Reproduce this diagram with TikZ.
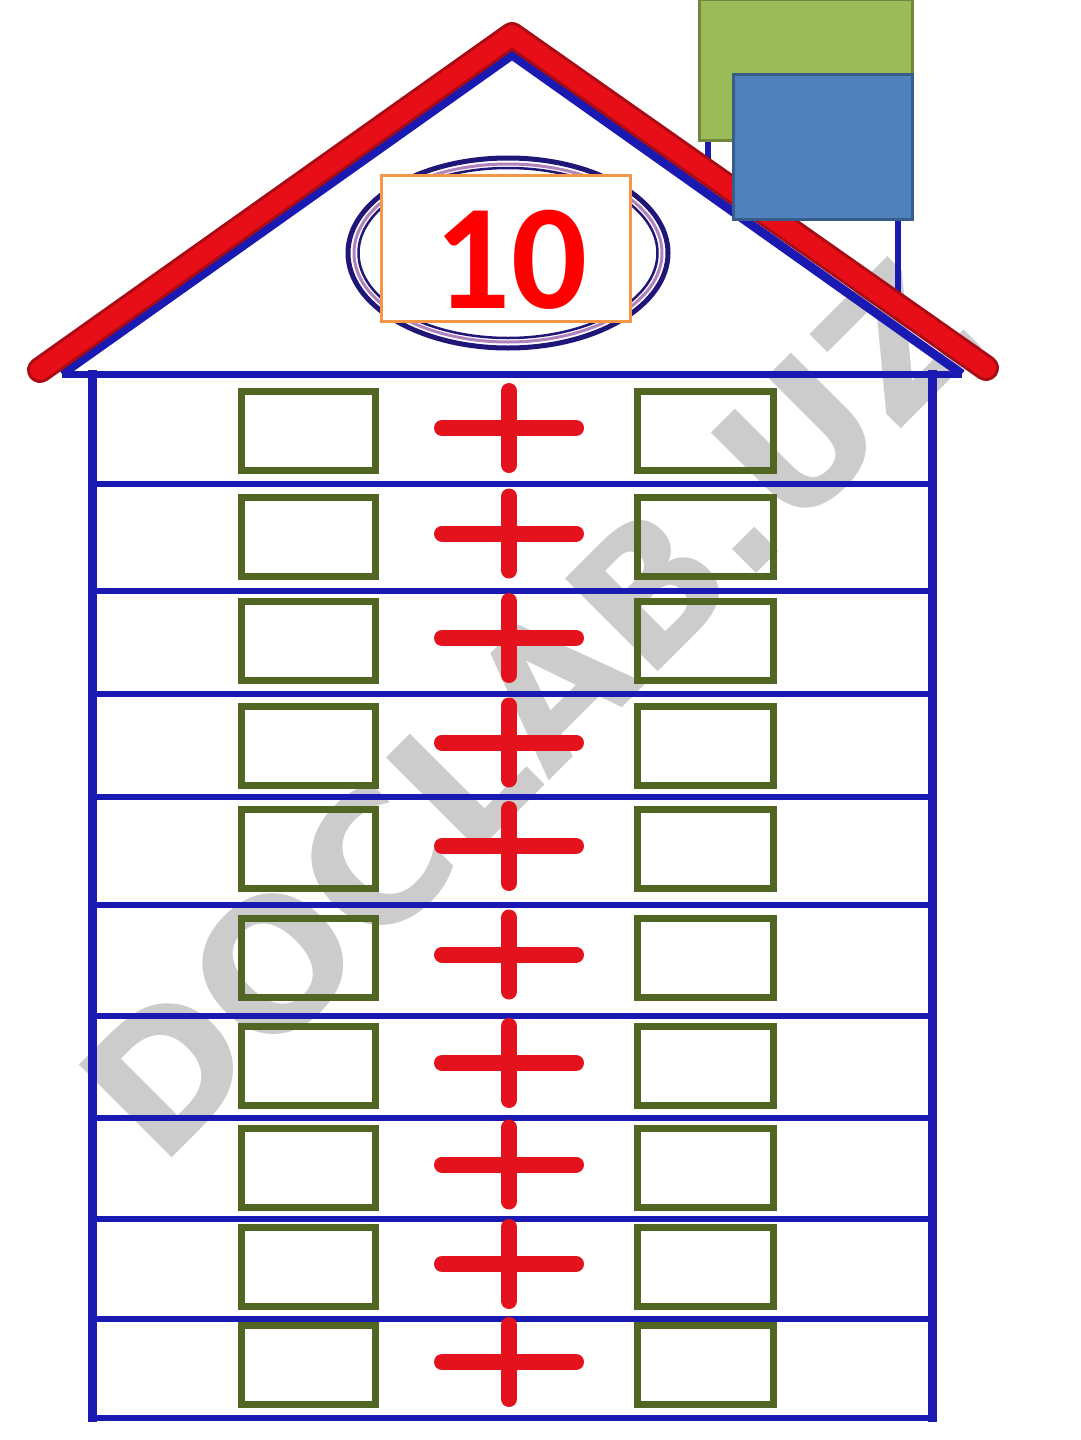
\documentclass[tikz,border=0pt]{standalone}
\usepackage{fontspec}
\usetikzlibrary{shapes.geometric}
\newfontfamily\numfont{Carlito}
\newfontfamily\wmfont{DejaVu Sans}
\definecolor{roofred}{RGB}{232,14,24}
\definecolor{roofdark}{RGB}{170,10,20}
\definecolor{lineblue}{RGB}{26,26,178}
\definecolor{navyline}{RGB}{32,22,120}
\definecolor{lilac}{RGB}{176,130,190}
\definecolor{boxgreen}{RGB}{82,102,36}
\definecolor{plusred}{RGB}{228,18,28}
\definecolor{chgreen}{RGB}{155,187,89}
\definecolor{chgreenb}{RGB}{113,137,63}
\definecolor{chblue}{RGB}{79,129,189}
\definecolor{chblueb}{RGB}{56,93,138}
\definecolor{orangeb}{RGB}{247,150,70}
\definecolor{wmgray}{RGB}{204,204,204}
\begin{document}
\begin{tikzpicture}[x=1pt,y=-1pt,
  wm/.style={text=wmgray, inner sep=0pt, font=\wmfont\bfseries\fontsize{180}{180}\selectfont},
  hline/.style={draw=lineblue, line width=6},
  wall/.style={draw=lineblue, line width=9},
  gbox/.style={draw=boxgreen, line width=7, inner sep=0pt, minimum height=79},
  lbox/.style={gbox, minimum width=134},
  rbox/.style={gbox, minimum width=136},
  plusbar/.style={draw=plusred, line width=16, line cap=round},
  chimg/.style={draw=chgreenb, fill=chgreen, line width=3, inner sep=0pt},
  chimb/.style={draw=chblueb, fill=chblue, line width=3, inner sep=0pt},
  numbox/.style={draw=orangeb, fill=white, line width=3, inner sep=0pt, minimum width=249, minimum height=146}
]
\useasboundingbox (0,0) rectangle (1080,1440);
\fill[white] (0,0) rectangle (1080,1440);

% watermark (under the drawing)
\node[wm, rotate=45, anchor=base west] (wmark) at (160,1170) {DOCLAB.UZ};

% chimney sides behind the roof
\coordinate (chl1) at (708,100); \coordinate (chl2) at (708,185);
\coordinate (chr1) at (898,150); \coordinate (chr2) at (898,315);
\draw[lineblue, line width=6] (chl1) -- (chl2);
\draw[lineblue, line width=6] (chr1) -- (chr2);

% gable (inner blue triangle)
\coordinate (gl) at (62,374); \coordinate (gt) at (512,55); \coordinate (gr) at (962,374);
\draw[lineblue, line width=9, line join=miter] (gl) -- (gt) -- (gr);
\draw[lineblue, line width=7] (gl) -- (gr);

% red roof
\coordinate (rl) at (40,370); \coordinate (rt) at (512,35); \coordinate (rr) at (986,368);
\draw[roofdark, line width=26, line cap=round, line join=round] (rl) -- (rt) -- (rr);
\draw[roofred, line width=20, line cap=round, line join=round] (rl) -- (rt) -- (rr);

% oval and number
\node[draw=navyline, line width=5, ellipse, minimum width=320, minimum height=190, inner sep=0pt] (ovo) at (508,253) {};
\node[draw=lilac, line width=3, ellipse, minimum width=308, minimum height=178, inner sep=0pt] (ovm) at (508,253) {};
\node[draw=navyline, line width=2.5, ellipse, minimum width=299, minimum height=170, inner sep=0pt] (ovi) at (508,253) {};
\node[numbox] (nbox) at (506,248.5) {};
\node[text=red, inner sep=0pt, font=\numfont\bfseries\fontsize{150}{150}\selectfont] (num) at (511,260) {10};

% body: row lines
\foreach \y [count=\i] in {374,484,591,694,797,905,1016,1118,1219,1319,1418} {
  \coordinate (a\i) at (92,\y); \coordinate (b\i) at (932,\y);
  \draw[hline] (a\i) -- (b\i);
}
\coordinate (wl1) at (92,370); \coordinate (wl2) at (92,1422);
\coordinate (wr1) at (932,370); \coordinate (wr2) at (932,1422);
\draw[wall] (wl1) -- (wl2);
\draw[wall] (wr1) -- (wr2);

% boxes and plus signs
\foreach \y [count=\i] in {431,536.5,641,745.5,849,957.5,1066,1167.5,1267,1365} {
  \node[lbox] (L\i) at (308.5,\y) {};
  \node[rbox] (R\i) at (705.5,\y) {};
  \coordinate (P\i) at (509,\y-3);
  \draw[plusbar] ([yshift=-37]P\i) -- ([yshift=37]P\i);
  \draw[plusbar] ([xshift=-67]P\i) -- ([xshift=67]P\i);
}

% chimney blocks on top
\node[chimg, minimum width=213, minimum height=141] (chg) at (806,70) {};
\node[chimb, minimum width=179, minimum height=145] (chb) at (823,147) {};
\end{tikzpicture}
\end{document}
